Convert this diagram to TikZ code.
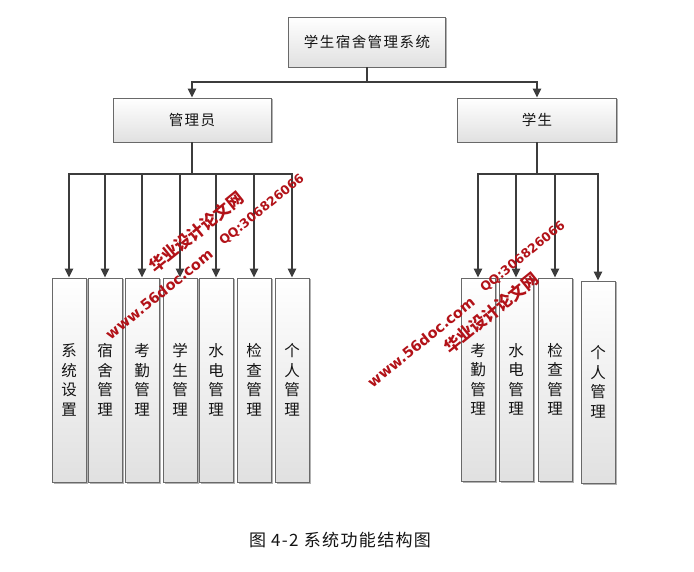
\documentclass[tikz,border=0pt]{standalone}
\usepackage{fontspec}
\newfontfamily\cjk{Noto Sans CJK SC}
\newfontfamily\cjkwide{Noto Sans CJK SC}[LetterSpace=10]
\newfontfamily\capfont{Noto Sans CJK SC}[LetterSpace=8]
\newfontfamily\wmlatin{DejaVu Sans}
\usetikzlibrary{arrows.meta,shadows}
\definecolor{boxline}{RGB}{105,105,105}
\definecolor{arrowgray}{RGB}{60,60,60}
\definecolor{wmred}{RGB}{178,18,24}
\definecolor{txt}{RGB}{20,20,20}
\tikzset{
  boxbase/.style={draw=boxline, line width=0.9pt, top color=white, bottom color=black!12,
    drop shadow={shadow xshift=1.5pt, shadow yshift=-1.5pt, opacity=0.3, fill=black},
    inner sep=0pt, text=txt},
  hbox/.style={boxbase, font=\cjkwide\fontsize{14.5}{16}\selectfont},
  vbox/.style={boxbase, minimum width=34pt, text width=16pt, align=center,
    font=\cjk\fontsize{15.5}{19.5}\selectfont},
  arr/.style={draw=arrowgray, line width=1.5pt, -{Triangle[length=9pt,width=8.5pt]}},
  plain/.style={draw=arrowgray, line width=1.5pt},
  wm/.style={text=wmred, inner sep=0pt, rotate=39}
}
\begin{document}
\begin{tikzpicture}[x=1pt,y=-1pt]
\fill[white] (0,0) rectangle (694,572);
\useasboundingbox (0,0) rectangle (694,572);

% top level
\node[hbox, minimum width=157pt, minimum height=50pt] (sys) at (367,42) {学生宿舍管理系统};
\node[hbox, minimum width=158pt, minimum height=44pt] (mgr) at (192,120) {管理员};
\node[hbox, minimum width=159pt, minimum height=44pt] (stu) at (537,120) {学生};

% administrator functions
\node[vbox, minimum height=204pt] (a1) at (69,380)  {系\\统\\设\\置};
\node[vbox, minimum height=204pt] (a2) at (105,380) {宿\\舍\\管\\理};
\node[vbox, minimum height=204pt] (a3) at (142,380) {考\\勤\\管\\理};
\node[vbox, minimum height=204pt] (a4) at (180,380) {学\\生\\管\\理};
\node[vbox, minimum height=204pt] (a5) at (216,380) {水\\电\\管\\理};
\node[vbox, minimum height=204pt] (a6) at (254,380) {检\\查\\管\\理};
\node[vbox, minimum height=204pt] (a7) at (292,380) {个\\人\\管\\理};

% student functions
\node[vbox, minimum height=203pt] (b1) at (478,379.5) {考\\勤\\管\\理};
\node[vbox, minimum height=203pt] (b2) at (516,379.5) {水\\电\\管\\理};
\node[vbox, minimum height=203pt] (b3) at (555,379.5) {检\\查\\管\\理};
\node[vbox, minimum height=202pt] (b4) at (598,382)   {个\\人\\管\\理};

% connectors
\coordinate (j0) at (367,82);
\draw[plain] (sys.south) -- (j0);
\draw[arr] (j0) -| (mgr.north);
\draw[arr] (j0) -| (stu.north);

\coordinate (j1) at (192,174);
\draw[plain] (mgr.south) -- (j1);
\foreach \i in {1,...,7} \draw[arr] (j1) -| (a\i.north);

\coordinate (j2) at (537,174);
\draw[plain] (stu.south) -- (j2);
\foreach \i in {1,...,4} \draw[arr] (j2) -| (b\i.north);

% caption
\node[text=txt, font=\capfont\fontsize{17}{17}\selectfont] (cap) at (340,540) {图 4-2 系统功能结构图};

% watermarks
\node[wm, font=\wmlatin\bfseries\fontsize{14.5}{14.5}\selectfont] (w1) at (159,294) {www.56doc.com};
\node[wm, font=\cjk\bfseries\fontsize{16.5}{16.5}\selectfont] (w2) at (196,232) {华业设计论文网};
\node[wm, font=\wmlatin\bfseries\fontsize{12.5}{12.5}\selectfont] (w3) at (262,210) {QQ:306826066};
\node[wm, font=\wmlatin\bfseries\fontsize{14.5}{14.5}\selectfont] (w4) at (421,342) {www.56doc.com};
\node[wm, font=\cjk\bfseries\fontsize{16.5}{16.5}\selectfont] (w5) at (491,313) {华业设计论文网};
\node[wm, font=\wmlatin\bfseries\fontsize{12.5}{12.5}\selectfont] (w6) at (523,257) {QQ:306826066};
\end{tikzpicture}
\end{document}
